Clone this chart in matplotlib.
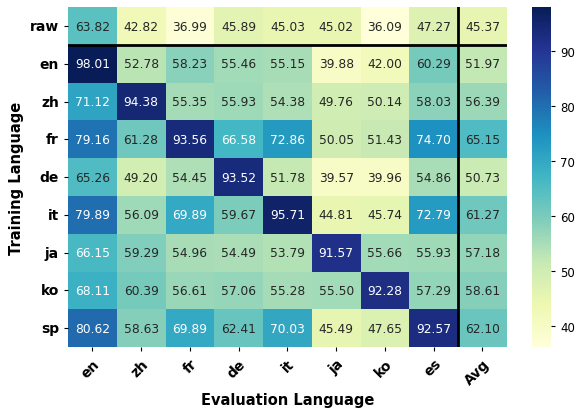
import numpy as np
import matplotlib
matplotlib.use("Agg")
import matplotlib.pyplot as plt
import seaborn as sns

train_langs = ["raw", "en", "zh", "fr", "de", "it", "ja", "ko", "sp"]
eval_langs = ["en", "zh", "fr", "de", "it", "ja", "ko", "es", "Avg"]

raw = [63.82, 42.82, 36.99, 45.89, 45.03, 45.02, 36.09, 47.27, 45.37]
en = [98.01, 52.78, 58.23, 55.46, 55.15, 39.88, 42.00, 60.29, 51.97]
zh = [71.12, 94.38, 55.35, 55.93, 54.38, 49.76, 50.14, 58.03, 56.39]
fr = [79.16, 61.28, 93.56, 66.58, 72.86, 50.05, 51.43, 74.70, 65.15]
de = [65.26, 49.20, 54.45, 93.52, 51.78, 39.57, 39.96, 54.86, 50.73]
it = [79.89, 56.09, 69.89, 59.67, 95.71, 44.81, 45.74, 72.79, 61.27]
ja = [66.15, 59.29, 54.96, 54.49, 53.79, 91.57, 55.66, 55.93, 57.18]
ko = [68.11, 60.39, 56.61, 57.06, 55.28, 55.50, 92.28, 57.29, 58.61]
sp = [80.62, 58.63, 69.89, 62.41, 70.03, 45.49, 47.65, 92.57, 62.10]

data = np.array([raw, en, zh, fr, de, it, ja, ko, sp])

fig = plt.figure(figsize=(5.76, 4.10), dpi=100)
ax = fig.add_axes([0.118, 0.151, 0.762, 0.829])
cax = fig.add_axes([0.924, 0.151, 0.033, 0.829])

sns.heatmap(data, ax=ax, cbar_ax=cax, cmap="YlGnBu", annot=True, fmt=".2f",
            annot_kws={"fontsize": 8.8},
            xticklabels=eval_langs, yticklabels=train_langs)

# separators for the raw row and the Avg column
ax.axhline(1, color="black", linewidth=2)
ax.axvline(8, color="black", linewidth=2)

ax.set_xticklabels(eval_langs, rotation=45, ha="right", rotation_mode="anchor",
                   fontsize=10, fontweight="bold")
ax.set_yticklabels(train_langs, rotation=0, fontsize=10, fontweight="bold")
ax.tick_params(length=3)
ax.set_xlabel("Evaluation Language", fontsize=10.5, fontweight="bold", labelpad=4)
ax.set_ylabel("Training Language", fontsize=10.5, fontweight="bold")
cax.tick_params(labelsize=8.5, length=3)

fig.savefig("out.png", dpi=100)
